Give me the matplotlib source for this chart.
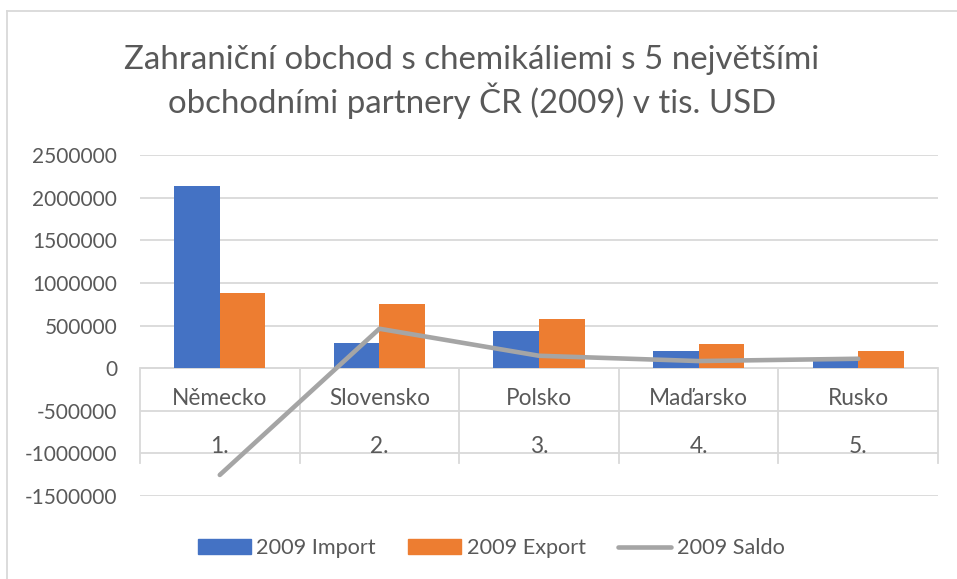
import matplotlib
matplotlib.use("Agg")
import matplotlib.pyplot as plt
from matplotlib.lines import Line2D
from matplotlib.patches import Patch
import numpy as np

countries = ["Německo", "Slovensko", "Polsko", "Maďarsko", "Rusko"]
ranks = ["1.", "2.", "3.", "4.", "5."]
imports = [2133000, 294000, 435000, 204000, 95000]
exports = [880000, 756000, 580000, 287000, 205000]
saldo = [-1253000, 462000, 145000, 83000, 110000]
yticks = [-1500000, -1000000, -500000, 0, 500000, 1000000, 1500000, 2000000, 2500000]

FONT = "Lato"
TXT = "#595959"
GRID = "#D9D9D9"
C_IMP = "#4472C4"
C_EXP = "#ED7D31"
C_SAL = "#A5A5A5"

W, H = 957, 579
fig = plt.figure(figsize=(W / 100, H / 100), dpi=100)
plt.rcParams["font.family"] = [FONT, "DejaVu Sans"]

ax = fig.add_axes([140 / W, 1 - 496 / H, (938 - 140) / W, (496 - 155) / H])
x = np.arange(len(countries))
bw = 0.2857
ax.bar(x - bw / 2, imports, bw, color=C_IMP, zorder=3)
ax.bar(x + bw / 2, exports, bw, color=C_EXP, zorder=3)
ax.plot(x, saldo, color=C_SAL, lw=3.3, solid_capstyle="round", solid_joinstyle="round", zorder=4)

ax.set_xlim(-0.5, len(countries) - 0.5)
ax.set_ylim(yticks[0], yticks[-1])
ax.set_yticks(yticks)
ax.set_yticklabels([str(v) for v in yticks])
ax.tick_params(axis="y", length=0, pad=16.5, labelsize=15, labelcolor=TXT)
ax.set_xticks([])
for s in ax.spines.values():
    s.set_visible(False)
ax.grid(axis="y", color=GRID, lw=1.3, zorder=0)
ax.axhline(0, color=GRID, lw=1.3, zorder=2)

# multi-level category axis
sep_bottom = -1111000
for b in np.arange(-0.5, len(countries), 1.0):
    ax.plot([b, b], [0, sep_bottom], color=GRID, lw=1.3, zorder=2, clip_on=False)
for i, (c, r) in enumerate(zip(countries, ranks)):
    ax.text(i, -351000, c, ha="center", va="center", fontsize=16.3, color=TXT)
    ax.text(i, -925000, r, ha="center", va="center", fontsize=16.3, color=TXT)

# title
fig.text(472 / W, 1 - 82 / H,
         "Zahraniční obchod s chemikáliemi s 5 největšími\nobchodními partnery ČR (2009) v tis. USD",
         ha="center", va="center", fontsize=23.8, color=TXT, linespacing=1.22)

# chart border (top & left visible)
fig.add_artist(Line2D([7 / W, 7 / W], [0, 1 - 11 / H], color=GRID, lw=1.3))
fig.add_artist(Line2D([7 / W, 1], [1 - 11 / H, 1 - 11 / H], color=GRID, lw=1.3))

handles = [Patch(color=C_IMP, label="2009 Import"),
           Patch(color=C_EXP, label="2009 Export"),
           Line2D([0], [0], color=C_SAL, lw=3.3, solid_capstyle="round", label="2009 Saldo")]
fig.legend(handles=handles, loc="center", bbox_to_anchor=(491 / W, 1 - 548 / H), ncol=3,
           frameon=False, fontsize=15.6, labelcolor=TXT, handlelength=2.45, handleheight=0.65,
           handletextpad=0.25, columnspacing=1.5)

fig.savefig("out.png", dpi=100, facecolor="white")
